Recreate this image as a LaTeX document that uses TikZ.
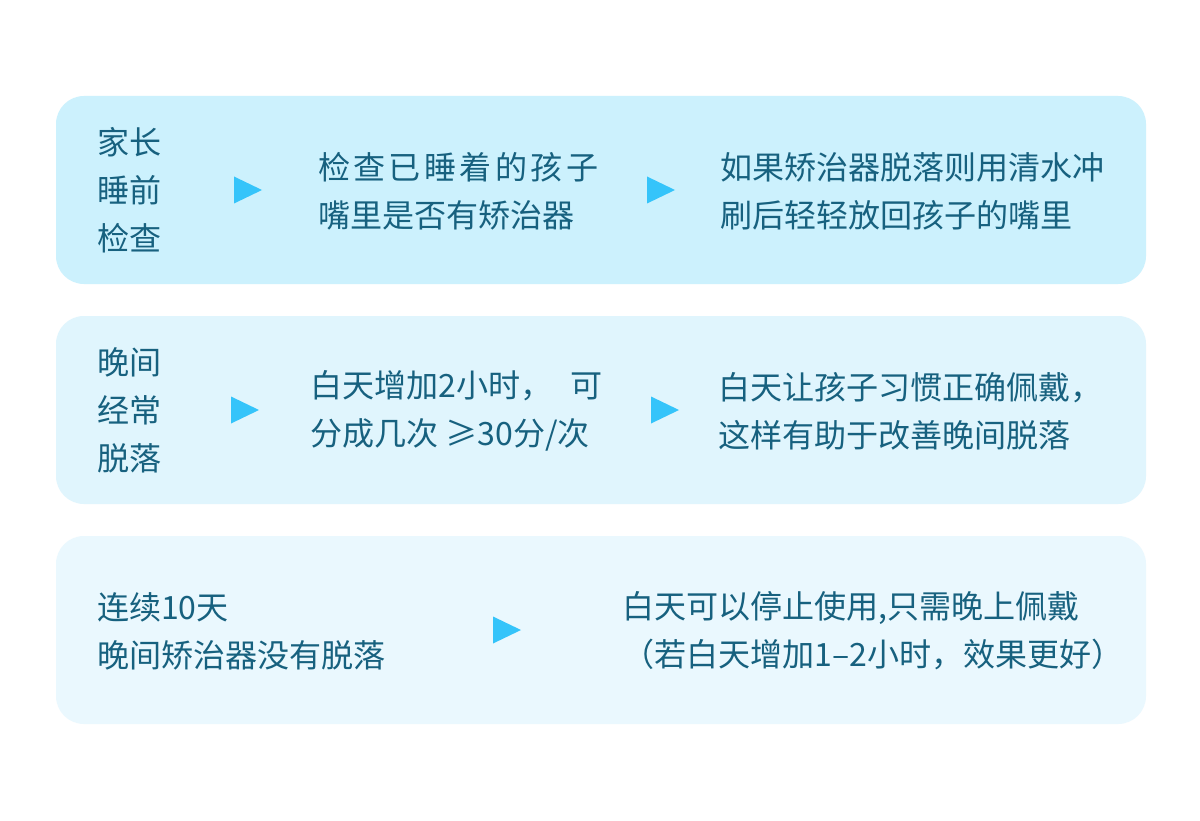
\documentclass[tikz,border=0pt]{standalone}
\usepackage{fontspec}
\newfontfamily\cjk{Noto Sans CJK SC}
\definecolor{boxa}{HTML}{CCF1FD}
\definecolor{boxb}{HTML}{E0F5FD}
\definecolor{boxc}{HTML}{EAF8FE}
\definecolor{txt}{HTML}{17617F}
\definecolor{arrowblue}{HTML}{35C4FA}
\newcommand\gapa{\kern2.4pt}
\begin{document}
\begin{tikzpicture}[x=0.025cm,y=-0.025cm,inner sep=0pt,outer sep=0pt,
panel/.style={rounded corners=0.7cm},
label/.style={anchor=west,align=left,text=txt,font=\cjk\fontsize{22.8}{34.2}\selectfont},
tri/.style={fill=arrowblue}]
\useasboundingbox[fill=white] (0,0) rectangle (1200,820);
% panels
\fill[panel,boxa] (56,96) rectangle (1146,284);
\fill[panel,boxb] (56,316) rectangle (1146,504);
\fill[panel,boxc] (56,536) rectangle (1146,724);
% row 1
\node[label] (check) at (97,190) {家长\\睡前\\检查};
\node[label] (look) at (318,191) {检\gapa 查\gapa 已\gapa 睡\gapa 着\gapa 的\gapa 孩\gapa 子\\嘴里是否有矫治器};
\node[label] (rinse) at (720,191) {如果矫治器脱落则用清水冲\\刷后轻轻放回孩子的嘴里};
\fill[tri] (234,176.5) -- ++(28,13.5) -- ++(-28,13.5) -- cycle;
\fill[tri] (647,176.5) -- ++(28,13.5) -- ++(-28,13.5) -- cycle;
% row 2
\node[label] (often) at (97,410) {晚间\\经常\\脱落};
\node[label] (daytime) at (310,411) {白天增加2小时，\hspace{13pt}可\\分成几次 ≥30分/次};
\node[label] (habit) at (718,411) {白天让孩子习惯正确佩戴，\\这样有助于改善晚间脱落};
\fill[tri] (231,396.5) -- ++(28,13.5) -- ++(-28,13.5) -- cycle;
\fill[tri] (651,396.5) -- ++(28,13.5) -- ++(-28,13.5) -- cycle;
% row 3
\node[label] (tendays) at (97,631) {连续10天\\晚间矫治器没有脱落};
\node[label] (stop) at (622,631) {白天可以停止使用,只需晚上佩戴\\（若白天增加1–2小时，效果更好）};
\fill[tri] (493,616.5) -- ++(28,13.5) -- ++(-28,13.5) -- cycle;
\end{tikzpicture}
\end{document}
